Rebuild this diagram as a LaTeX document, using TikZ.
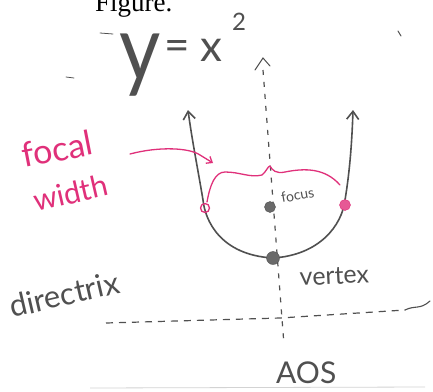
\documentclass[tikz,border=0pt]{standalone}
\usepackage{fontspec}
\setmainfont{Lato}
\newfontfamily\serifF{Liberation Serif}
\usetikzlibrary{arrows.meta}
\definecolor{ink}{HTML}{505050}
\definecolor{pinkink}{HTML}{E0307A}
\tikzset{
  hand/.style={ink, line width=1.6pt, line cap=round, line join=round},
  pinkline/.style={pinkink, line width=1.3pt, line cap=round, line join=round},
  dashaxis/.style={ink, line width=1.2pt, dash pattern=on 5pt off 7pt},
  lbl/.style={ink, inner sep=0pt, anchor=base west},
  plbl/.style={pinkink, inner sep=0pt, anchor=base west},
  gdot/.style={circle, fill=ink!85, draw=ink, inner sep=0pt, minimum size=11pt},
}
\begin{document}
\begin{tikzpicture}[x=1pt,y=-1pt]
\useasboundingbox[fill=white] (0,0) rectangle (433,391);
% header text, clipped at the top
\node[lbl, black, font=\serifF\fontsize{27}{30}\selectfont] (fig) at (95,11) {Figure.};
% equation
\node[lbl, font=\fontsize{80}{84}\selectfont] (yy) at (119,80) {\scalebox{1}[1.15]{y}};
\node[lbl, font=\fontsize{44}{46}\selectfont] (eq) at (164,60) {=};
\node[lbl, font=\fontsize{44}{46}\selectfont] (xx) at (200,61) {x};
\node[lbl, font=\fontsize{24}{26}\selectfont] (sq) at (232,30) {2};
% axis of symmetry
\coordinate (axtop) at (263,58);
\coordinate (axbot) at (284,345);
\draw[dashaxis] (263,70) -- (axbot);
\draw[ink, line width=1pt, line cap=round] (255,70) -- (axtop) -- (270,66);
% directrix
\coordinate (dl) at (106,323);
\coordinate (dr) at (405,310);
\draw[dashaxis, dash pattern=on 7pt off 6pt] (dl) -- (280,318) -- (dr);
\draw[ink, line width=1.1pt, line cap=round] (dr) .. controls (415,305) and (420,310) .. (430,301);
% parabola
\coordinate (ltip) at (188,110);
\coordinate (rtip) at (353,110);
\coordinate (vtx) at (273,258);
\draw[hand, -{Straight Barb[length=8pt,width=12pt]}] (vtx) .. controls (220,255) and (205,220) .. (203,200)
   .. controls (198,170) and (192,140) .. (ltip);
\draw[hand, -{Straight Barb[length=8pt,width=12pt]}] (vtx) .. controls (320,255) and (342,225) .. (345,200)
   .. controls (350,170) and (352,140) .. (rtip);
% focal width brace
\draw[pinkline] (207,202) .. controls (210,185) and (215,172) .. (225,172)
   .. controls (240,172) and (250,178) .. (262,175)
   .. controls (266,172) and (268,166) .. (270,166)
   .. controls (272,170) and (276,174) .. (285,172)
   .. controls (305,168) and (325,168) .. (340,185);
% pink arrow from label
\draw[pinkline, -{Straight Barb[length=5pt,width=8pt]}] (130,154) .. controls (160,146) and (190,148) .. (200,155) -- (213,163);
% pink points
\node[circle, draw=pinkink, line width=1.3pt, inner sep=0pt, minimum size=9pt] (lp) at (205,208) {};
\node[circle, draw=pinkink, fill=pinkink!80, inner sep=0pt, minimum size=11pt] (rp) at (345,205) {};
% focus and vertex dots
\node[gdot] (focus) at (270,207) {};
\node[gdot, minimum size=13pt] (vertex) at (vtx) {};
% labels
\node[plbl, font=\fontsize{34}{36}\selectfont, rotate=11] (focal) at (24,168) {focal};
\node[plbl, font=\fontsize{30}{32}\selectfont, rotate=13] (width) at (36,212) {width};
\node[lbl, font=\fontsize{14}{16}\selectfont, rotate=10] (focusl) at (282,203) {focus};
\node[lbl, font=\fontsize{31}{33}\selectfont, rotate=13] (directrix) at (12,318) {directrix};
\node[lbl, font=\fontsize{25}{28}\selectfont, rotate=3] (vertexl) at (300,286) {vertex};
\node[lbl, font=\fontsize{30}{32}\selectfont] (aos) at (276,383) {AOS};
% stray marks
\draw[ink, line width=0.8pt, line cap=round] (100,33) -- (113,34);
\draw[ink, line width=0.8pt, line cap=round] (66,77) -- (74,78);
\draw[ink, line width=1pt, line cap=round] (398,31) -- (401,36);
\draw[ink!25, line width=0.8pt] (90,388) -- (425,387);
\end{tikzpicture}
\end{document}
